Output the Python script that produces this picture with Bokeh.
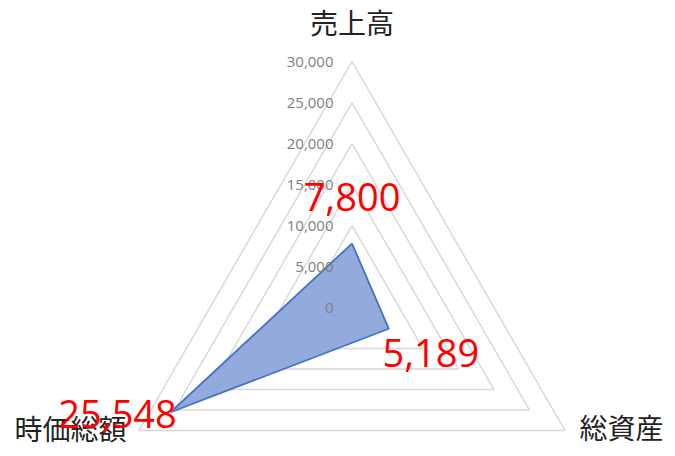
import numpy as np
from bokeh.plotting import figure
from bokeh.models import ColumnDataSource, Range1d
from bokeh.core.properties import value
from bokeh.embed import file_html
from bokeh.resources import INLINE

# ---- data ----
categories = ["売上高", "総資産", "時価総額"]
values = [7800, 5189, 25548]
value_labels = ["7,800", "5,189", "25,548"]
tick_values = [0, 5000, 10000, 15000, 20000, 25000, 30000]
tick_labels = ["0", "5,000", "10,000", "15,000", "20,000", "25,000", "30,000"]
max_value = 30000

# ---- layout ----
W, H = 667, 448
R = 246.0                 # pixel radius of max value
cx, cy = 351.5, 307.0     # centre in figure px (from left / from top)
angles = np.deg2rad([90.0, -30.0, 210.0])
scale = R / max_value

p = figure(width=W, height=H,
           x_range=Range1d(-cx, W - cx), y_range=Range1d(-(H - cy), cy),
           output_backend="svg", toolbar_location=None, min_border=0)
p.axis.visible = False
p.grid.visible = False
p.outline_line_color = None
p.background_fill_color = "white"
p.border_fill_color = "white"

# grid rings
ring_xs, ring_ys = [], []
for t in tick_values[1:]:
    r = t * scale
    xs = list(r * np.cos(angles)); ys = list(r * np.sin(angles))
    ring_xs.append(xs + [xs[0]]); ring_ys.append(ys + [ys[0]])
p.multi_line(ring_xs, ring_ys, line_color="#D9D9D9", line_width=1.5)

# data polygon
vr = np.array(values) * scale
px = vr * np.cos(angles); py = vr * np.sin(angles)
p.patch(list(px), list(py), fill_color="#93AADC", fill_alpha=1.0,
        line_color="#4472C4", line_width=1.8)

# tick labels
tsrc = ColumnDataSource(dict(x=[-18.5] * len(tick_values),
                             y=[t * scale for t in tick_values],
                             t=tick_labels))
p.text("x", "y", text="t", source=tsrc, text_align="right", text_baseline="middle",
       text_font=value("Open Sans"), text_font_size="15px", text_color="#7F7F7F")

# category labels
cat_dx = [0, 56.5, -68.5]
cat_dy = [40, 3.5, 2.5]
csrc = ColumnDataSource(dict(x=list(R * np.cos(angles) + np.array(cat_dx)),
                             y=list(R * np.sin(angles) + np.array(cat_dy)),
                             t=categories))
p.text("x", "y", text="t", source=csrc, text_align="center", text_baseline="middle",
       text_font=value("Noto Sans CJK JP"), text_font_size="28px", text_color="#222222")

# value labels
lab_dx = [0, 42, -53]
lab_dy = [47, -24, -2]
vsrc = ColumnDataSource(dict(x=list(px + np.array(lab_dx)),
                             y=list(py + np.array(lab_dy)),
                             t=value_labels))
p.text("x", "y", text="t", source=vsrc, text_align="center", text_baseline="middle",
       text_font=value("Open Sans"), text_font_size="38px", text_color="#FF0000")

open("out.html", "w").write(file_html(p, INLINE))
